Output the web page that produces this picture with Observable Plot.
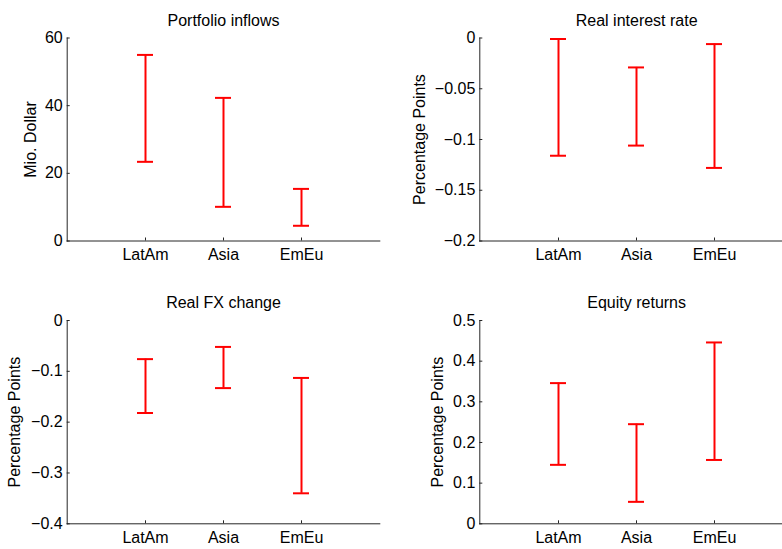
<!DOCTYPE html>
<html><head><meta charset="utf-8">
<script src="https://cdn.jsdelivr.net/npm/d3@7"></script>
<script src="https://cdn.jsdelivr.net/npm/@observablehq/plot@0.6"></script>
<style>
body{margin:0;background:#fff;overflow:hidden}
#wrap{position:relative;width:782px;height:549px;overflow:hidden;background:#fff}
#wrap > svg{position:absolute}
</style></head><body><div id="wrap"></div>
<script>
const categories = ["LatAm", "Asia", "EmEu"];

const portfolioLow  = [23.4, 10.1, 4.5];
const portfolioHigh = [55.0, 42.3, 15.4];
const portfolioTicks = [0, 20, 40, 60];

const rateLow  = [-0.116, -0.106, -0.128];
const rateHigh = [-0.001, -0.029, -0.006];
const rateTicks = [0, -0.05, -0.1, -0.15, -0.2];

const fxLow  = [-0.182, -0.133, -0.340];
const fxHigh = [-0.076, -0.052, -0.113];
const fxTicks = [0, -0.1, -0.2, -0.3, -0.4];

const equityLow  = [0.145, 0.054, 0.157];
const equityHigh = [0.346, 0.245, 0.446];
const equityTicks = [0, 0.1, 0.2, 0.3, 0.4, 0.5];

const panels = [
  {title: "Portfolio inflows", yLabel: "Mio. Dollar", low: portfolioLow, high: portfolioHigh, ticks: portfolioTicks,
   domain: [0, 60], left: 0, top: 0, width: 391, height: 275, mL: 66.7, mR: 11.7, mT: 37.5, mB: 34.5, labelDx: -36.5},
  {title: "Real interest rate", yLabel: "Percentage Points", low: rateLow, high: rateHigh, ticks: rateTicks,
   domain: [-0.2, 0], left: 391, top: 0, width: 410, height: 275, mL: 88.3, mR: 8, mT: 37.5, mB: 34.5, labelDx: -60.3},
  {title: "Real FX change", yLabel: "Percentage Points", low: fxLow, high: fxHigh, ticks: fxTicks,
   domain: [-0.4, 0], left: 0, top: 275, width: 391, height: 274, mL: 66.7, mR: 11.7, mT: 45, mB: 25.7, labelDx: -52.4},
  {title: "Equity returns", yLabel: "Percentage Points", low: equityLow, high: equityHigh, ticks: equityTicks,
   domain: [0, 0.5], left: 391, top: 275, width: 410, height: 274, mL: 88.3, mR: 8, mT: 45, mB: 25.7, labelDx: -42.3}
];

const font = "'Liberation Sans', Arial, Helvetica, sans-serif";
const axisColor = "#262626";
const fmt = d => String(d).replace("-", "\u2212");
const wrap = document.getElementById("wrap");

for (const p of panels) {
  const rows = categories.map((c, i) => ({cat: c, low: p.low[i], high: p.high[i]}));
  const innerW = p.width - p.mL - p.mR;
  const innerH = p.height - p.mT - p.mB;
  const chart = Plot.plot({
    width: p.width,
    height: p.height,
    marginLeft: p.mL,
    marginRight: p.mR,
    marginTop: p.mT,
    marginBottom: p.mB,
    style: {fontFamily: font, fontSize: "16px", color: "#000", background: "transparent", overflow: "visible"},
    x: {type: "point", domain: categories, padding: 1},
    y: {domain: p.domain},
    marks: [
      Plot.frame({anchor: "left", stroke: axisColor}),
      Plot.frame({anchor: "bottom", stroke: axisColor}),
      Plot.axisY({ticks: p.ticks, tickFormat: fmt, tickSize: 0, tickPadding: 4.5, label: null, fill: "#000"}),
      Plot.axisX({tickSize: 0, tickPadding: 8, label: null, fill: "#000"}),
      Plot.tickY(p.ticks, {y: d => d, insetRight: innerW - 3, stroke: axisColor}),
      Plot.tickX(categories, {x: d => d, insetTop: innerH - 3, stroke: axisColor}),
      Plot.text([p.title], {frameAnchor: "top", dy: -17.5, lineAnchor: "middle", fontSize: 16, fill: "#000"}),
      Plot.text([p.yLabel], {frameAnchor: "left", rotate: -90, dx: p.labelDx, lineAnchor: "middle", textAnchor: "middle", fontSize: 16, fill: "#000"}),
      Plot.ruleX(rows, {x: "cat", y1: "low", y2: "high", stroke: "#ff0000", strokeWidth: 2}),
      Plot.ruleY(rows, {x1: "cat", x2: "cat", y: "high", insetLeft: -8, insetRight: -8, stroke: "#ff0000", strokeWidth: 2}),
      Plot.ruleY(rows, {x1: "cat", x2: "cat", y: "low", insetLeft: -8, insetRight: -8, stroke: "#ff0000", strokeWidth: 2})
    ]
  });
  chart.style.left = p.left + "px";
  chart.style.top = p.top + "px";
  wrap.appendChild(chart);
}
</script>
</body></html>
